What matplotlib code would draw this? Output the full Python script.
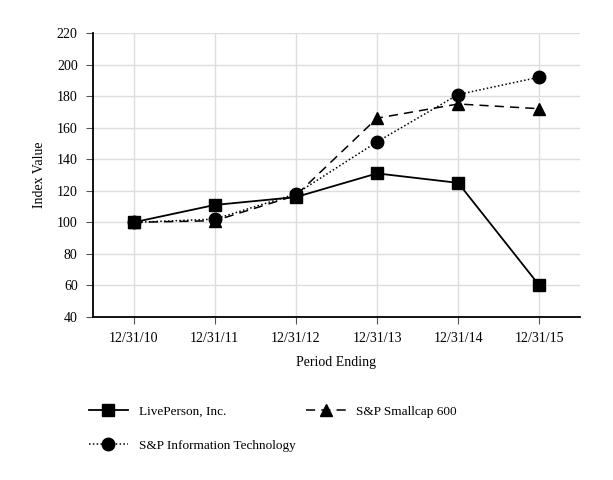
import matplotlib.pyplot as plt

plt.rcParams['font.family'] = ['Liberation Serif', 'DejaVu Serif']

periods = ['12/31/10', '12/31/11', '12/31/12', '12/31/13', '12/31/14', '12/31/15']
liveperson = [100, 111, 116, 131, 125, 60]
smallcap = [100, 101, 117, 166, 175, 172]
info_tech = [100, 102, 118, 151, 181, 192]

fig = plt.figure(figsize=(6.13, 4.8), dpi=100)
ax = fig.add_axes([0.1517, 0.3396, 0.7943, 0.5917])

x = range(len(periods))
lp, = ax.plot(x, liveperson, color='black', linestyle='-', linewidth=1.3,
              marker='s', markersize=9, label='LivePerson, Inc.')
sc, = ax.plot(x, smallcap, color='black', linestyle=(0, (6, 4)), linewidth=1.1,
              marker='^', markersize=9, label='S&P Smallcap 600')
it, = ax.plot(x, info_tech, color='black', linestyle=(0, (1, 1.5)), linewidth=1.1,
              marker='o', markersize=9, label='S&P Information Technology')

ax.set_xlim(-0.5, 5.5)
ax.set_ylim(40, 220)
ax.set_yticks(range(40, 221, 20))
ax.set_xticks(list(x))
ax.set_xticklabels(periods)
ax.grid(True, color='#dddddd', linewidth=1)
ax.set_axisbelow(True)
for s in ['top', 'right']:
    ax.spines[s].set_visible(False)
ax.spines['left'].set_linewidth(1.3)
ax.spines['bottom'].set_linewidth(1.3)
ax.tick_params(labelsize=10, length=5, color='#555555', pad=6)
ax.set_xlabel('Period Ending', fontsize=10, labelpad=8)
ax.set_ylabel('Index Value', fontsize=10, labelpad=8)

# column-major fill: row 1 = LivePerson, Smallcap; row 2 = Info Tech
fig.legend([lp, it, sc], [lp.get_label(), it.get_label(), sc.get_label()],
           loc='upper left', bbox_to_anchor=(0.125, 0.18), ncol=2, frameon=False,
           fontsize=9.5, handlelength=3.0, columnspacing=0.8, labelspacing=1.65,
           handletextpad=0.8)

fig.savefig('out.png', dpi=100)
